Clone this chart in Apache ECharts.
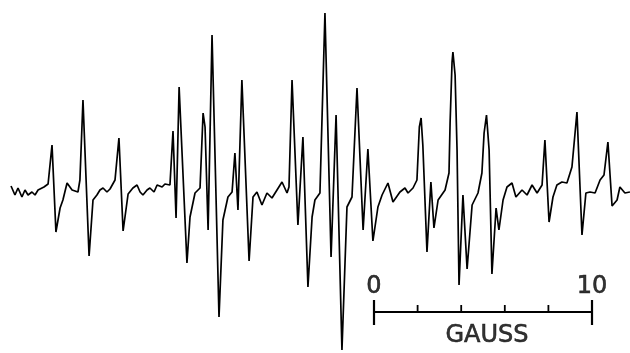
<!DOCTYPE html>
<html>
<head>
<meta charset="utf-8">
<script src="https://cdn.jsdelivr.net/npm/echarts@6/dist/echarts.min.js"></script>
<style>
html,body{margin:0;padding:0;background:#fff;}
#chart{width:630px;height:353px;}
</style>
</head>
<body>
<div id="chart"></div>
<script>
// Magnetic field (gauss, relative to scale-bar zero) and derivative signal (arbitrary units)
const fieldG = [
-16.65,-16.47,-16.33,-16.15,-16.01,-15.87,-15.69,-15.55,-15.41,-15.14,
-14.95,-14.77,-14.59,-14.40,-14.27,-14.08,-13.85,-13.58,-13.49,-13.35,
-13.07,-12.89,-12.71,-12.57,-12.43,-12.25,-12.11,-11.88,-11.70,-11.51,
-11.28,-11.06,-10.87,-10.73,-10.60,-10.41,-10.28,-10.09,-9.95,-9.72,
-9.59,-9.50,-9.36,-9.22,-9.08,-8.94,-8.58,-8.44,-8.21,-7.98,
-7.84,-7.75,-7.61,-7.43,-7.11,-6.93,-6.70,-6.51,-6.38,-6.24,
-6.06,-5.73,-5.55,-5.37,-5.14,-4.91,-4.68,-4.45,-4.22,-3.99,
-3.90,-3.76,-3.49,-3.26,-3.03,-2.84,-2.71,-2.48,-2.25,-1.97,
-1.74,-1.47,-1.24,-1.01,-0.78,-0.50,-0.28,-0.05,0.18,0.37,
0.64,0.87,1.19,1.42,1.56,1.79,1.97,2.08,2.16,2.24,2.43,2.61,
2.75,2.94,3.26,3.44,3.49,3.58,3.62,3.72,3.81,3.90,4.08,4.27,4.50,4.77,
4.95,5.05,5.16,5.28,5.41,5.60,5.73,5.92,6.10,6.33,6.51,6.79,
7.02,7.25,7.48,7.71,7.84,8.03,8.21,8.39,8.62,8.85,
9.08,9.31,9.54,9.72,9.91,10.14,10.37,10.55,10.73,10.92,
11.15,11.28,11.51,11.74
];
const signal = [
-1,-10,-3,-12,-5,-10,-7,-10,-5,-2,
1,40,-47,-23,-15,2,-5,-7,5,85,
-71,-15,-10,-5,-3,-7,-4,5,47,-46,
-9,-3,0,-7,-10,-5,-3,-7,0,-2,
1,2,0,54,-33,98,-78,-32,-8,-3,
72,58,-45,150,-132,-35,-12,-7,32,-25,
105,-76,-12,-7,-20,-8,-13,-5,3,-8,
-2,105,-40,48,-102,-32,-15,-8,172,-72,
70,-165,-22,-12,97,-45,36,-56,-22,-10,
2,-17,-7,-3,-8,-3,5,58,67,40,-67,3,
-43,-15,-5,12,62,123,133,110,35,-100,-10,-84,-20,-8,
12,52,70,35,-89,-23,-45,-15,-2,2,-12,-5,
-10,0,-8,0,45,-37,-12,0,3,2,
18,73,-50,-8,-7,-8,5,10,43,-21,
-15,-2,-8,-7
];
// Scale bar (gauss)
const scaleStart = 0;
const scaleEnd = 10;
const scaleMinorTicks = [2, 4, 6, 8];
const scaleLabels = ['0', '10'];
const scaleTitle = 'GAUSS';

// vertical levels (signal units) of the scale-bar annotation
const barLevel = -127;
const endTickTop = -115, endTickBottom = -140;
const minorTickTop = -120;
const digitLevel = -102;
const titleLevel = -151;

const traceData = fieldG.map((g, i) => [g, signal[i]]);

const series = [];
series.push({
  type: 'line', data: traceData, symbol: 'none', smooth: false,
  lineStyle: {color: '#000', width: 1.7}, z: 3, silent: true
});
series.push({
  type: 'line', data: [[scaleStart, barLevel], [scaleEnd, barLevel]], symbol: 'none',
  lineStyle: {color: '#000', width: 2}, silent: true
});
[scaleStart, scaleEnd].forEach(g => series.push({
  type: 'line', data: [[g, endTickTop], [g, endTickBottom]], symbol: 'none',
  lineStyle: {color: '#000', width: 2.2}, silent: true
}));
scaleMinorTicks.forEach(g => series.push({
  type: 'line', data: [[g, minorTickTop], [g, barLevel]], symbol: 'none',
  lineStyle: {color: '#000', width: 1.8}, silent: true
}));
series.push({
  type: 'scatter', symbolSize: 1, itemStyle: {color: 'rgba(0,0,0,0)'}, silent: true,
  data: [[scaleStart, digitLevel, scaleLabels[0]], [scaleEnd, digitLevel, scaleLabels[1]],
         [(scaleStart + scaleEnd) / 2 + 0.18, titleLevel, scaleTitle]],
  label: {
    show: true, position: 'inside', color: '#000',
    textBorderColor: '#000', textBorderWidth: 0.6,
    fontFamily: 'DejaVu Sans', fontSize: 24, fontWeight: 'normal',
    formatter: p => p.data[2]
  }
});

const chart = echarts.init(document.getElementById('chart'), null, {renderer: 'canvas'});
chart.setOption({
  animation: false,
  backgroundColor: '#fff',
  grid: {left: 0, right: 0, top: 0, bottom: 0},
  xAxis: {type: 'value', min: -17.156, max: 11.743, show: false},
  yAxis: {type: 'value', min: -168, max: 185, show: false},
  series: series
});
</script>
</body>
</html>
